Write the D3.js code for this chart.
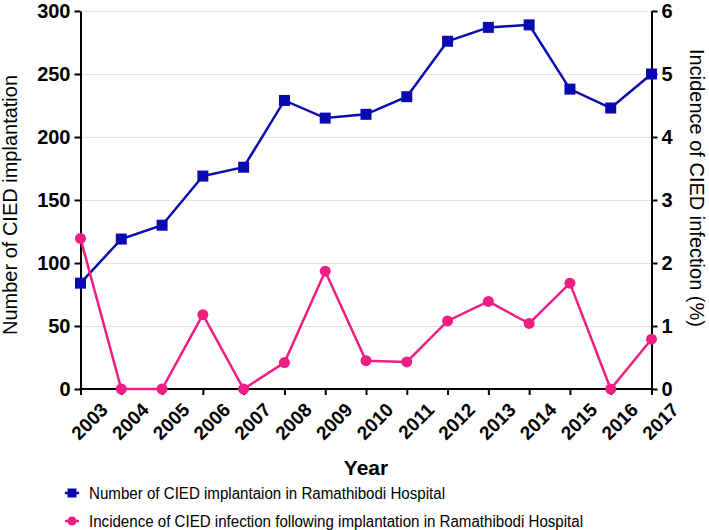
<!DOCTYPE html>
<html lang="en">
  <head>
    <meta charset="UTF-8" />
    <script src="https://d3js.org/d3.v7.min.js"></script>
    <style>
      body { margin: 0; background: #fff; }
      text { font-family: "Liberation Sans", Arial, sans-serif; }
      .tick text { font-weight: bold; font-size: 20px; fill: #000; }
      .domain, .tick line { stroke: #000; stroke-width: 2px; }
    </style>
    <title>CIED</title>
  </head>
  <body>
    <svg id="chart" width="709" height="530"></svg>
    <script>
      const years = [2003, 2004, 2005, 2006, 2007, 2008, 2009, 2010, 2011, 2012, 2013, 2014, 2015, 2016, 2017];
      const implants = [84, 119, 130, 169, 176, 229, 215, 218, 232, 276, 287, 289, 238, 223, 250];
      const infection = [2.39, 0, 0, 1.18, 0, 0.42, 1.87, 0.45, 0.43, 1.08, 1.39, 1.04, 1.68, 0, 0.79];
      const leftTicks = [0, 50, 100, 150, 200, 250, 300];
      const rightTicks = [0, 1, 2, 3, 4, 5, 6];
      const legendLabels = [
        "Number of CIED implantaion in Ramathibodi Hospital",
        "Incidence of CIED infection following implantation in Ramathibodi Hospital"
      ];

      const blue = "#0a0ab0";
      const pink = "#ee1e82";

      const svg = d3.select("#chart");
      const plotLeft = 80.5, plotRight = 651.5, plotTop = 11, plotBottom = 389;

      const x = d3.scalePoint().domain(years).range([plotLeft, plotRight]);
      const yL = d3.scaleLinear().domain([0, 300]).range([plotBottom, plotTop]);
      const yR = d3.scaleLinear().domain([0, 6]).range([plotBottom, plotTop]);

      // gridlines
      svg.append("g")
        .selectAll("line")
        .data(leftTicks.slice(1))
        .join("line")
        .attr("x1", plotLeft)
        .attr("x2", plotRight)
        .attr("y1", (d) => yL(d) + 0.5)
        .attr("y2", (d) => yL(d) + 0.5)
        .attr("stroke", "#e2e2e2")
        .attr("stroke-width", 1);

      // axes
      svg.append("g")
        .attr("transform", `translate(${plotLeft},0)`)
        .call(d3.axisLeft(yL).tickValues(leftTicks).tickSize(6).tickSizeOuter(0).tickPadding(4));

      svg.append("g")
        .attr("transform", `translate(${plotRight},0)`)
        .call(d3.axisRight(yR).tickValues(rightTicks).tickFormat(d3.format("d")).tickSize(6).tickSizeOuter(0).tickPadding(4));

      const xAxis = svg.append("g")
        .attr("transform", `translate(0,${plotBottom})`)
        .call(d3.axisBottom(x).tickSize(6).tickSizeOuter(0).tickFormat(d3.format("d")));
      xAxis.select(".domain").attr("d", `M${plotLeft - 1},0H${plotRight + 1}`);
      xAxis.selectAll(".tick text")
        .attr("text-anchor", "end")
        .style("font-size", "19px")
        .attr("transform", "translate(11,5) rotate(-45)")
        .attr("dy", "0.8em");

      // axis titles
      svg.append("text")
        .attr("transform", "translate(17,205) rotate(-90)")
        .attr("text-anchor", "middle")
        .style("font-size", "20px")
        .text("Number of CIED implantation");

      svg.append("text")
        .attr("transform", "translate(690,188) rotate(90)")
        .attr("text-anchor", "middle")
        .style("font-size", "20px")
        .text("Incidence of CIED infection (%)");

      svg.append("text")
        .attr("x", (plotLeft + plotRight) / 2)
        .attr("y", 475)
        .attr("text-anchor", "middle")
        .style("font-size", "21px")
        .style("font-weight", "bold")
        .text("Year");

      // series
      const lineL = d3.line().x((d, i) => x(years[i])).y((d) => yL(d));
      const lineR = d3.line().x((d, i) => x(years[i])).y((d) => yR(d));

      svg.append("path")
        .datum(implants)
        .attr("fill", "none")
        .attr("stroke", blue)
        .attr("stroke-width", 2.5)
        .attr("d", lineL);

      svg.append("path")
        .datum(infection)
        .attr("fill", "none")
        .attr("stroke", pink)
        .attr("stroke-width", 2.5)
        .attr("d", lineR);

      svg.append("g")
        .selectAll("rect")
        .data(implants)
        .join("rect")
        .attr("x", (d, i) => x(years[i]) - 5.5)
        .attr("y", (d) => yL(d) - 5.5)
        .attr("width", 11)
        .attr("height", 11)
        .attr("fill", blue);

      svg.append("g")
        .selectAll("circle")
        .data(infection)
        .join("circle")
        .attr("cx", (d, i) => x(years[i]))
        .attr("cy", (d) => yR(d))
        .attr("r", 5.5)
        .attr("fill", pink);

      // legend
      const legend = svg.append("g").attr("transform", "translate(72,493)");
      const rows = legend.selectAll("g")
        .data(legendLabels)
        .join("g")
        .attr("transform", (d, i) => `translate(0,${i * 28})`);
      rows.append("line")
        .attr("x1", -7).attr("x2", 7)
        .attr("stroke", (d, i) => (i === 0 ? blue : pink))
        .attr("stroke-width", 2.5);
      rows.each(function (d, i) {
        const g = d3.select(this);
        if (i === 0) {
          g.append("rect").attr("x", -4.5).attr("y", -4.5).attr("width", 9).attr("height", 9).attr("fill", blue);
        } else {
          g.append("circle").attr("r", 4.5).attr("fill", pink);
        }
      });
      rows.append("text")
        .attr("x", 17)
        .attr("dy", "0.36em")
        .style("font-size", "16px")
        .attr("textLength", (d, i) => (i === 0 ? 356 : 494))
        .attr("lengthAdjust", "spacingAndGlyphs")
        .text((d) => d);
    </script>
  </body>
</html>
